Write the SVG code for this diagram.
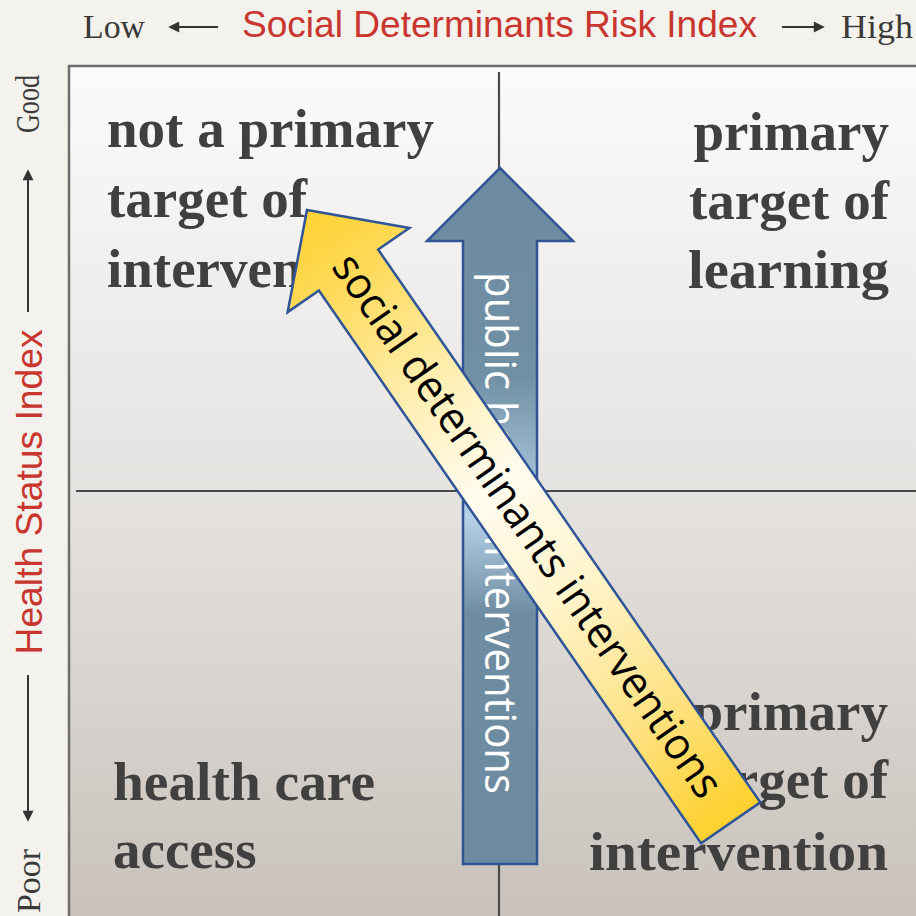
<svg xmlns="http://www.w3.org/2000/svg" width="916" height="916" viewBox="0 0 916 916">
<defs>
  <linearGradient id="bg" x1="0" y1="65" x2="0" y2="916" gradientUnits="userSpaceOnUse">
    <stop offset="0" stop-color="#FBFBFB"/>
    <stop offset="0.5" stop-color="#E5E3E0"/>
    <stop offset="1" stop-color="#C9C2BC"/>
  </linearGradient>
  <linearGradient id="blueg" x1="0" y1="168" x2="0" y2="864" gradientUnits="userSpaceOnUse">
    <stop offset="0" stop-color="#6D8BA0"/>
    <stop offset="0.3" stop-color="#7090A5"/>
    <stop offset="0.5" stop-color="#B6D1E8"/>
    <stop offset="0.64" stop-color="#6F8DA2"/>
    <stop offset="1" stop-color="#6D8BA0"/>
  </linearGradient>
  <linearGradient id="yellowg" x1="0" y1="0" x2="745" y2="0" gradientUnits="userSpaceOnUse">
    <stop offset="0" stop-color="#FDD232"/>
    <stop offset="0.12" stop-color="#FEDB5E"/>
    <stop offset="0.3" stop-color="#FFF0B8"/>
    <stop offset="0.45" stop-color="#FFFCF0"/>
    <stop offset="0.62" stop-color="#FFF4CC"/>
    <stop offset="0.82" stop-color="#FEE284"/>
    <stop offset="1" stop-color="#FDD02C"/>
  </linearGradient>
  <marker id="ah" viewBox="0 0 10 10" refX="2" refY="5" markerUnits="userSpaceOnUse" markerWidth="13" markerHeight="11" orient="auto">
    <path d="M0,0 L10,5 L0,10 Z" fill="#333333"/>
  </marker>
  <style>
    .axis { font-family: "Liberation Serif", "Times New Roman", serif; font-size: 34px; fill: #3A3A3A; }
    .red { font-family: "Liberation Sans", Arial, sans-serif; font-size: 37px; fill: #C8362F; }
    .quad { font-family: "Liberation Serif", "Times New Roman", serif; font-weight: bold; font-size: 55px; fill: #404040; }
    .arrowtxt { font-family: "Open Sans", "Noto Sans", sans-serif; font-size: 44px; }
    .axline { stroke: #333333; stroke-width: 2; fill: none; }
    .div { stroke: #4A4A4A; stroke-width: 2.2; fill: none; }
    .outline { stroke: #2F5597; stroke-width: 2.5; stroke-linejoin: miter; }
  </style>
</defs>

<rect x="0" y="0" width="916" height="916" fill="#F4F2ED"/>

<g id="axis-x">
  <text class="axis" x="83" y="38" textLength="62" lengthAdjust="spacingAndGlyphs">Low</text>
  <line class="axline" x1="218" y1="27" x2="177" y2="27" marker-end="url(#ah)"/>
  <text class="red" x="242" y="37" textLength="515" lengthAdjust="spacingAndGlyphs">Social Determinants Risk Index</text>
  <line class="axline" x1="782" y1="27" x2="816" y2="27" marker-end="url(#ah)"/>
  <text class="axis" x="841" y="38" textLength="72" lengthAdjust="spacingAndGlyphs">High</text>
</g>

<g id="axis-y">
  <text class="axis" transform="translate(39,104) rotate(-90)" text-anchor="middle" textLength="58" lengthAdjust="spacingAndGlyphs">Good</text>
  <line class="axline" x1="28" y1="312" x2="28" y2="178" marker-end="url(#ah)"/>
  <text class="red" transform="translate(42,492) rotate(-90)" text-anchor="middle" textLength="325" lengthAdjust="spacingAndGlyphs">Health Status Index</text>
  <line class="axline" x1="28" y1="675" x2="28" y2="813" marker-end="url(#ah)"/>
  <text class="axis" transform="translate(40,881) rotate(-90)" text-anchor="middle" textLength="64" lengthAdjust="spacingAndGlyphs">Poor</text>
</g>

<g id="grid">
  <rect x="69" y="66" width="870" height="870" fill="url(#bg)" stroke="#6E6E6E" stroke-width="2.5"/>
  <line class="div" x1="499" y1="72" x2="499" y2="916"/>
  <line class="div" x1="76" y1="491" x2="916" y2="491"/>
</g>

<g id="q-top-left">
  <text class="quad" x="107" y="147">not a primary</text>
  <text class="quad" x="107" y="217">target of</text>
  <text class="quad" x="107" y="287">intervention</text>
</g>
<g id="q-top-right">
  <text class="quad" x="889" y="150" text-anchor="end">primary</text>
  <text class="quad" x="889" y="219" text-anchor="end">target of</text>
  <text class="quad" x="889" y="288" text-anchor="end" textLength="201" lengthAdjust="spacingAndGlyphs">learning</text>
</g>
<g id="q-bottom-left">
  <text class="quad" x="113" y="800" textLength="262" lengthAdjust="spacingAndGlyphs">health care</text>
  <text class="quad" x="113" y="868">access</text>
</g>
<g id="q-bottom-right">
  <text class="quad" x="888" y="730" text-anchor="end">primary</text>
  <text class="quad" x="888" y="798" text-anchor="end">target of</text>
  <text class="quad" x="888" y="870" text-anchor="end" textLength="299" lengthAdjust="spacingAndGlyphs">intervention</text>
</g>

<g id="public-health-arrow">
  <path class="outline" d="M500,168 L573,241 L537,241 L537,864 L463,864 L463,241 L427,241 Z" fill="url(#blueg)"/>
  <text class="arrowtxt" transform="translate(485,272) rotate(90)" fill="#FFFFFF" textLength="522" lengthAdjust="spacingAndGlyphs">public health interventions</text>
</g>

<g id="social-determinants-arrow" transform="translate(307,210) rotate(55.34)">
  <path class="outline" d="M0,0 L73,-74 L73,-36 L745,-36 L745,36 L73,36 L73,74 Z" fill="url(#yellowg)"/>
  <text class="arrowtxt" x="60" y="13" fill="#000000" textLength="650" lengthAdjust="spacingAndGlyphs">social determinants interventions</text>
</g>
</svg>
